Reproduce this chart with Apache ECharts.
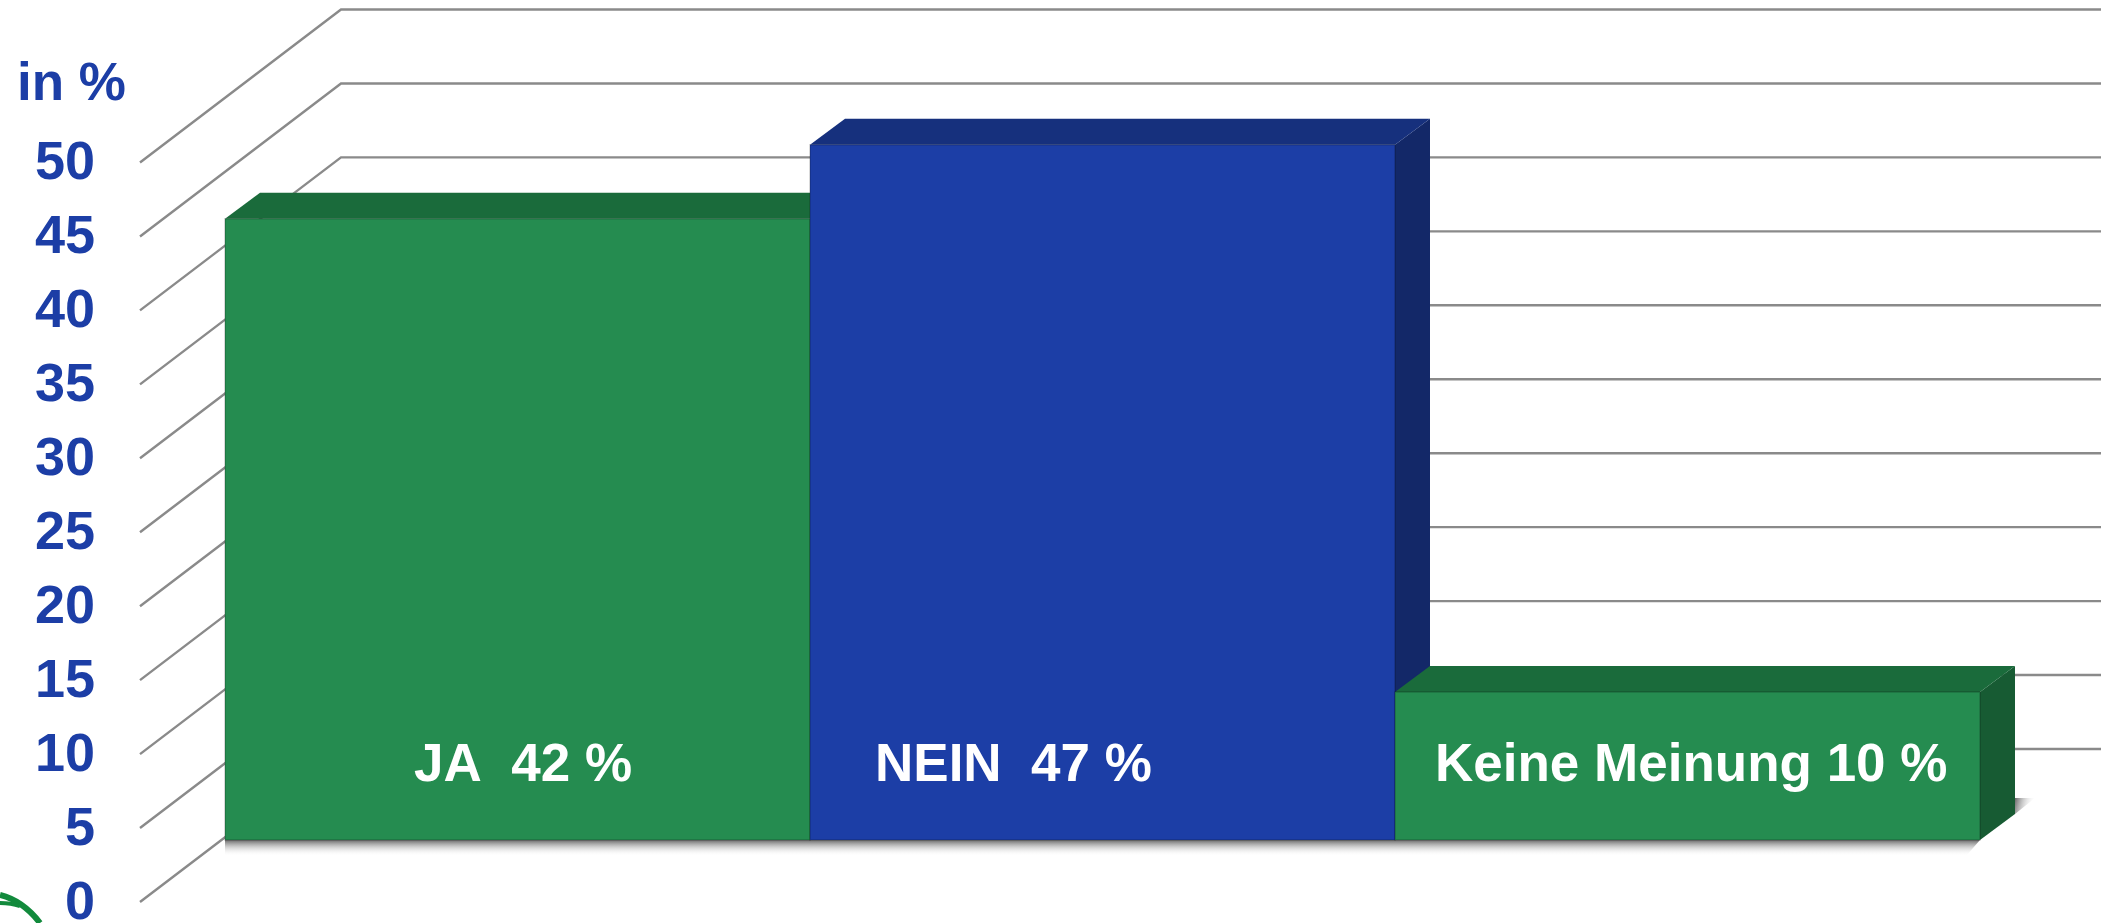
<!DOCTYPE html>
<html>
<head>
<meta charset="utf-8">
<style>html,body{margin:0;padding:0;background:#fff}#c{width:2101px;height:923px}</style>
<script src="https://cdn.jsdelivr.net/npm/echarts@6/dist/echarts.min.js"></script>
</head>
<body>
<div id="c"></div>
<script>
const categories = ['JA', 'NEIN', 'Keine Meinung'];
const values = [42, 47, 10];
const barLabels = ['JA  42 %', 'NEIN  47 %', 'Keine Meinung 10 %'];
const tickValues = [0, 5, 10, 15, 20, 25, 30, 35, 40, 45, 50];
const unitLabel = 'in %';

const BLUE = '#1C3EA6', GREEN = '#258C50';
const faces = {
  JA: { front: GREEN, top: '#1A6B3B', side: '#175B33' },
  NEIN: { front: BLUE, top: '#16307D', side: '#132868' },
  'Keine Meinung': { front: GREEN, top: '#1A6B3B', side: '#175B33' }
};
const DEPTH = [35, -26];
const labelLeft = [414, 875, 1435];
const labelY = 766;

const chart = echarts.init(document.getElementById('c'), null, { renderer: 'canvas' });

function renderWall(params, api) {
  const y = api.coord([0, api.value(0)])[1];
  return {
    type: 'polyline',
    shape: { points: [[140, y + 62], [341, y - 91], [2101, y - 91]] },
    style: { stroke: '#8A8A8A', lineWidth: 2.4, fill: null },
    silent: true
  };
}

function renderBar(params, api) {
  const i = api.value(0);
  const v = api.value(1);
  const c = api.coord([i, v]);
  const base = api.coord([i, 0])[1];
  const w = api.size([1, 0])[0];
  const x0 = c[0] - w / 2, x1 = c[0] + w / 2, y = c[1];
  const [dx, dy] = DEPTH;
  const f = faces[categories[i]];
  const isLast = i === values.length - 1;
  const fade = (x0g, y0g, x1g, y1g) => new echarts.graphic.LinearGradient(x0g, y0g, x1g, y1g, [
    { offset: 0, color: 'rgba(105,105,105,1)' }, { offset: 1, color: 'rgba(255,255,255,0)' }]);
  return {
    type: 'group',
    children: [
      // floor shadow below the front face
      { type: 'polygon', z2: 1, shape: { points: [[x0, base], [x1, base], [isLast ? x1 - 14 : x1, base + 16], [x0, base + 16]] }, style: { fill: fade(0, 0, 0, 1) } },
      // shadow to the right of the side face
      { type: 'polygon', z2: 1, shape: { points: [[x1 + dx, base + dy], [x1 + dx, base + dy - 16], [x1 + dx + 20, base + dy - 16]] }, style: { fill: fade(0, 0, 1, 0.3) } },
      { type: 'polygon', z2: 2, shape: { points: [[x1, y], [x1 + dx, y + dy], [x1 + dx, base + dy], [x1, base]] }, style: { fill: f.side } },
      { type: 'polygon', z2: 2, shape: { points: [[x0, y], [x0 + dx, y + dy], [x1 + dx, y + dy], [x1, y]] }, style: { fill: f.top } },
      { type: 'rect', z2: 3, shape: { x: x0, y: y, width: w, height: base - y }, style: { fill: f.front, stroke: 'rgba(0,0,0,0.2)', lineWidth: 1.5 } },
      { type: 'text', z2: 4, style: { text: barLabels[i], x: labelLeft[i], y: labelY, verticalAlign: 'middle', align: 'left',
          fill: '#fff', font: 'bold 53px "Liberation Sans", Arial, sans-serif' } }
    ]
  };
}

chart.setOption({
  animation: false,
  backgroundColor: '#ffffff',
  title: { text: unitLabel, left: 12, top: 54, textStyle: { color: BLUE, fontSize: 53, fontWeight: 'bold', fontFamily: '"Liberation Sans", Arial, sans-serif' } },
  grid: [
    { left: 225, right: 121, top: 100.5, height: 739.5, outerBoundsMode: 'none' },
    { left: 140, width: 1, top: 164.5, height: 739.5, outerBoundsMode: 'none' }
  ],
  xAxis: [
    { type: 'category', gridIndex: 0, data: categories, show: false },
    { type: 'category', gridIndex: 1, data: [''], show: false }
  ],
  yAxis: [
    { type: 'value', gridIndex: 0, min: 0, max: 50, interval: 5, show: false },
    { type: 'value', gridIndex: 1, min: 0, max: 50, interval: 5,
      axisLine: { show: false }, axisTick: { show: false }, splitLine: { show: false },
      axisLabel: { margin: 45, color: BLUE, fontSize: 54, fontWeight: 'bold', fontFamily: '"Liberation Sans", Arial, sans-serif', align: 'right', showMinLabel: true, showMaxLabel: true } }
  ],
  graphic: [
    { type: 'bezierCurve', silent: true, shape: { x1: 0, y1: 895, cpx1: 16, cpy1: 899, cpx2: 30, cpy2: 910, x2: 40, y2: 923 }, style: { stroke: '#128A3C', lineWidth: 6, fill: null } },
    { type: 'bezierCurve', silent: true, shape: { x1: 0, y1: 903, cpx1: 8, cpy1: 903, cpx2: 14, cpy2: 904, x2: 20, y2: 906 }, style: { stroke: '#128A3C', lineWidth: 4, fill: null } }
  ],
  series: [
    { type: 'custom', name: 'Gitter', xAxisIndex: 0, yAxisIndex: 0, z: 1, clip: false, renderItem: renderWall, data: tickValues.map(v => [v]), encode: { y: 0 } },
    { type: 'custom', name: 'Umfrage', xAxisIndex: 0, yAxisIndex: 0, z: 2, clip: false, renderItem: renderBar, data: values.map((v, i) => [i, v]), encode: { x: 0, y: 1 } }
  ]
});
</script>
</body>
</html>
